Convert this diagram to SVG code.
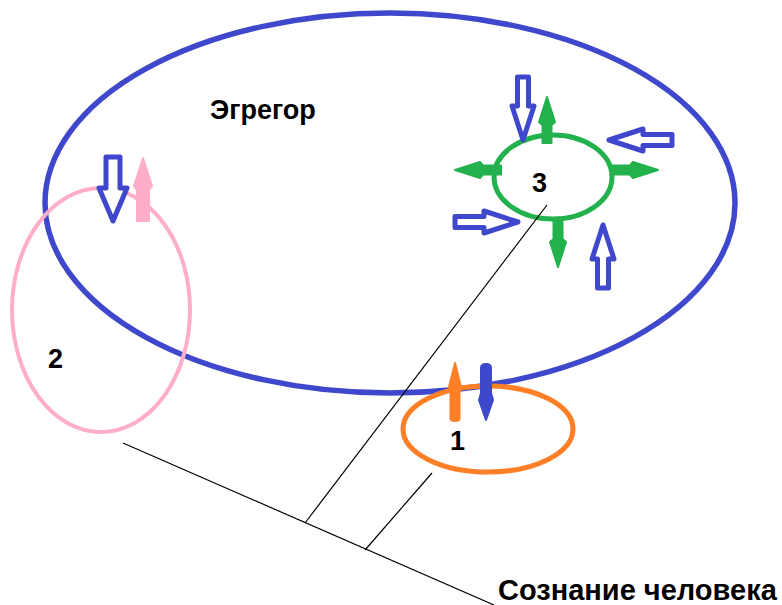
<svg xmlns="http://www.w3.org/2000/svg" width="782" height="605" viewBox="0 0 782 605">
<style>
.lbl{font-family:"Liberation Sans",Arial,sans-serif;font-weight:bold;fill:#000}
.hollow{fill:#fff;stroke:#3f48cc;stroke-width:5;stroke-linejoin:round}
.green{fill:#22b14c;stroke:#22b14c;stroke-width:2;stroke-linejoin:round}
.conn{stroke:#000;stroke-width:1.2;fill:none}
</style>
<defs>
<path id="hol" d="M-5.5,0 H5.5 V29 H11 L0,63 L-11,29 H-5.5 Z"/>
<path id="gsp" d="M0,0 L8,25 L4.5,28 V46 H-4.5 V28 L-8,25 Z"/>
</defs>
<rect width="782" height="605" fill="#fff"/>
<g id="egregor">
<ellipse cx="390" cy="203" rx="345" ry="190" fill="none" stroke="#3f48cc" stroke-width="5.5"/>
<text class="lbl" x="210" y="119" font-size="27">Эгрегор</text>
</g>
<g id="node2">
<ellipse cx="101" cy="310" rx="89" ry="122" fill="none" stroke="#ffaec9" stroke-width="4"/>
<path d="M-7,0 H7 V31 H14 L0,64 L-14,31 H-7 Z" class="hollow" transform="translate(113,157)"/>
<path d="M0,0 L9,28 L6,32 V63 H-6 V32 L-9,28 Z" fill="#ffaec9" stroke="#ffaec9" stroke-width="2" stroke-linejoin="round" transform="translate(143,158)"/>
<text class="lbl" x="48" y="368" font-size="27">2</text>
</g>
<g id="node1">
<ellipse cx="488" cy="429" rx="85" ry="43" fill="none" stroke="#ff7f27" stroke-width="5"/>
<path d="M0,0 L6,24 L4.5,28 V56 Q4.5,58 0,58 Q-4.5,58 -4.5,56 V28 L-6,24 Z" fill="#ff7f27" stroke="#ff7f27" stroke-width="2" stroke-linejoin="round" transform="translate(455,363)"/>
<path d="M0,0 L7,20 L5,27 V52 Q5,56 0,56 Q-5,56 -5,52 V27 L-7,20 Z" fill="#3f48cc" stroke="#3f48cc" stroke-width="2" stroke-linejoin="round" transform="translate(486,420) rotate(180)"/>
<text class="lbl" x="450" y="450" font-size="27">1</text>
</g>
<g id="node3">
<ellipse cx="553" cy="177" rx="59" ry="42" fill="none" stroke="#22b14c" stroke-width="5"/>
<use href="#gsp" class="green" transform="translate(547,97)"/>
<use href="#gsp" class="green" transform="translate(455,170) rotate(-90)"/>
<use href="#gsp" class="green" transform="translate(658,170) rotate(90)"/>
<use href="#gsp" class="green" transform="translate(558,267) rotate(180)"/>
<use href="#hol" class="hollow" transform="translate(523,77)"/>
<use href="#hol" class="hollow" transform="translate(672,140) rotate(90)"/>
<use href="#hol" class="hollow" transform="translate(455,222) rotate(-90)"/>
<use href="#hol" class="hollow" transform="translate(603,288) rotate(180)"/>
<text class="lbl" x="532" y="192" font-size="27">3</text>
</g>
<g id="connectors">
<line class="conn" x1="123" y1="443" x2="494" y2="605"/>
<line class="conn" x1="305" y1="523" x2="547" y2="205"/>
<line class="conn" x1="365" y1="550" x2="432" y2="473"/>
</g>
<g id="consciousness">
<text class="lbl" x="498" y="600" font-size="29">Сознание человека</text>
</g>
</svg>
